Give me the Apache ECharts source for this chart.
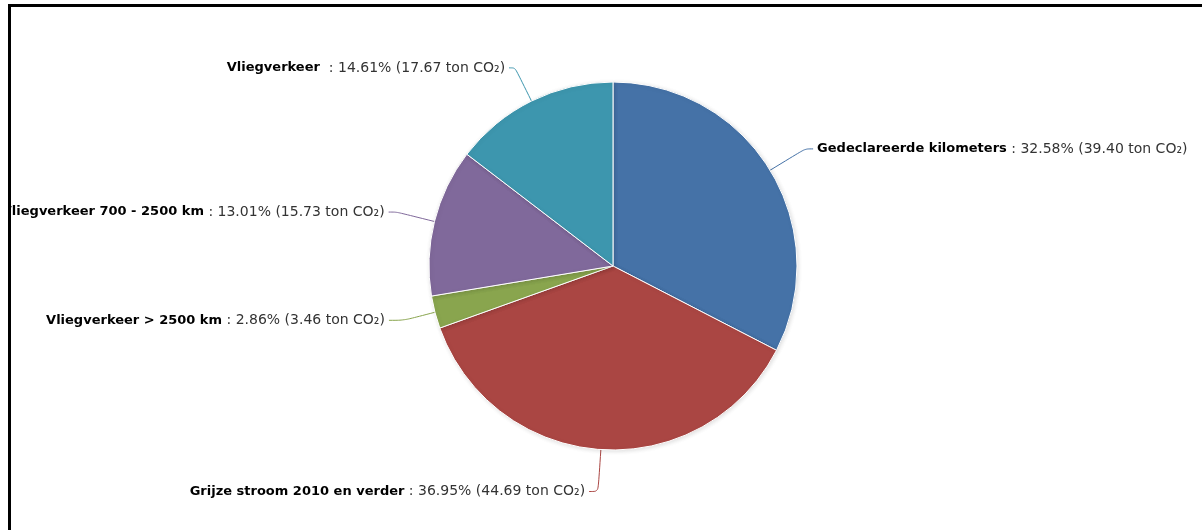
<!DOCTYPE html>
<html>
<head>
<meta charset="utf-8">
<script src="https://cdn.jsdelivr.net/npm/echarts@6/dist/echarts.min.js"></script>
<style>
  html, body { margin: 0; padding: 0; background: #fff; }
  #wrap { position: relative; width: 1202px; height: 530px; overflow: hidden; }
  #chart { position: absolute; left: 0; top: 0; width: 1202px; height: 530px; }
  #mask { position: absolute; left: 0; top: 0; width: 8px; height: 530px; background: #fff; }
  #frame { position: absolute; left: 8px; top: 4px; right: -10px; bottom: -10px;
           border-top: 3px solid #000; border-left: 3px solid #000; pointer-events: none; }
</style>
</head>
<body>
<div id="wrap"><div id="chart"></div><div id="mask"></div><div id="frame"></div></div>
<script>
const categories = [
  'Gedeclareerde kilometers',
  'Grijze stroom 2010 en verder',
  'Vliegverkeer > 2500 km',
  'Vliegverkeer 700 - 2500 km',
  'Vliegverkeer '
];
const values = [39.40, 44.69, 3.46, 15.73, 17.67];
const colors = ['#4572A7', '#AA4643', '#89A54E', '#80699B', '#3D96AE'];
const lineLen1 = [41, 42, 32, 39, 37];
const lineLen2 = [8, 9, 15, 8, 6];

const total = values.reduce((a, b) => a + b, 0);
const chart = echarts.init(document.getElementById('chart'), null, { renderer: 'canvas' });
const data = categories.map((c, i) => ({
  name: c, value: values[i], itemStyle: { color: colors[i] },
  labelLine: { length: lineLen1[i], length2: lineLen2[i], lineStyle: { color: colors[i] } }
}));

chart.setOption({
  animation: false,
  backgroundColor: '#fff',
  series: [{
    type: 'pie',
    center: [613, 266],
    radius: 184,
    startAngle: 90,
    clockwise: true,
    avoidLabelOverlap: false,
    data: data,
    itemStyle: { borderColor: '#fff', borderWidth: 1,
      shadowColor: 'rgba(0,0,0,0.12)', shadowBlur: 4, shadowOffsetX: 1, shadowOffsetY: 1 },
    label: {
      show: true,
      position: 'outside',
      distanceToLabelLine: 4,
      formatter: p => '{n|' + p.name + '}{v| : ' + (p.value / total * 100).toFixed(2) + '% (' + p.value.toFixed(2) + ' ton CO\u2082)}',
      rich: {
        n: { fontFamily: 'DejaVu Sans', fontWeight: 'bold', fontSize: 13, color: '#000' },
        v: { fontFamily: 'DejaVu Sans', fontSize: 14, color: '#333' }
      }
    },
    labelLine: { show: true, smooth: 0.3, lineStyle: { width: 1 } }
  }]
});
</script>
</body>
</html>
